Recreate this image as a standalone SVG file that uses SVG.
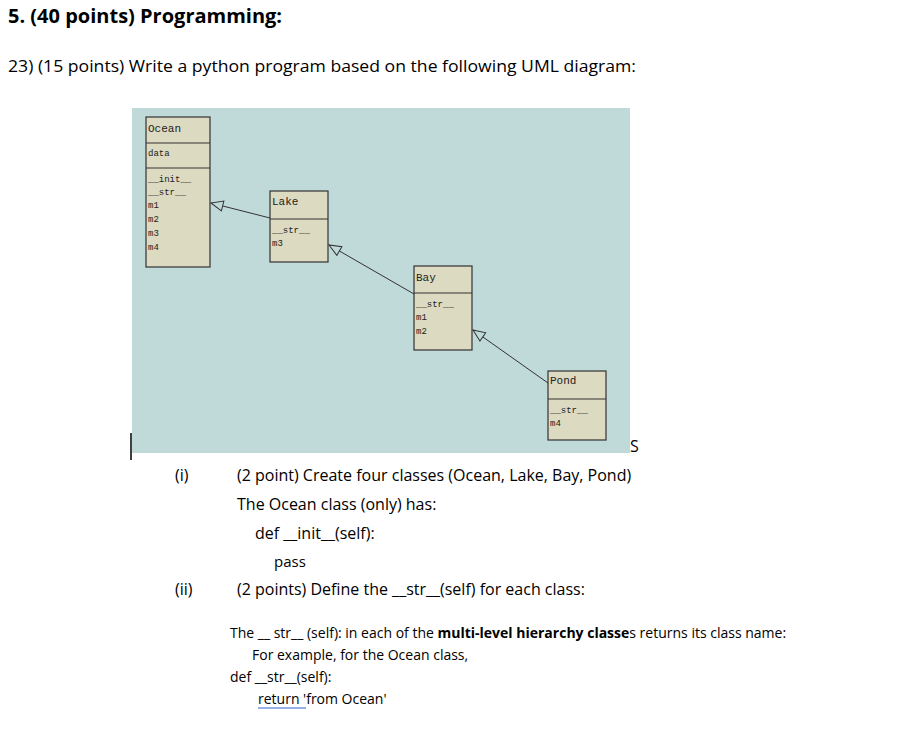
<svg xmlns="http://www.w3.org/2000/svg" width="923" height="735" viewBox="0 0 923 735">
<style>
.t{font-family:"Open Sans","Liberation Sans",sans-serif;fill:#000}
.m{font-family:"Liberation Mono","DejaVu Sans Mono",monospace;font-size:11px;fill:#222}
.s{font-family:"Liberation Mono","DejaVu Sans Mono",monospace;font-size:9px;fill:#222}
.box{fill:#dcdac0;stroke:#333;stroke-width:1.2}
.ln{stroke:#333;stroke-width:1}
</style>
<defs>
<marker id="tri" markerWidth="14" markerHeight="12" refX="13" refY="6" orient="auto" markerUnits="userSpaceOnUse">
<path d="M1,1 L13,6 L1,11 Z" fill="#c0d9d9" stroke="#333" stroke-width="1"/>
</marker>
</defs>
<rect width="923" height="735" fill="#fff"/>
<text class="t" x="8" y="23" font-size="20" font-weight="bold">5. (40 points) Programming:</text>
<text class="t" x="8" y="72" font-size="17" textLength="628" lengthAdjust="spacingAndGlyphs">23) (15 points) Write a python program based on the following UML diagram:</text>
<rect x="132" y="108" width="498" height="345" fill="#c0d9d9"/>
<line x1="131" y1="433" x2="131" y2="460" stroke="#000" stroke-width="1.5"/>
<text class="t" x="630" y="452" font-size="16">S</text>
<g id="connectors" fill="none" class="ln">
<line x1="270" y1="218" x2="211" y2="203" stroke="#333" marker-end="url(#tri)"/>
<line x1="414" y1="294" x2="329" y2="245" stroke="#333" marker-end="url(#tri)"/>
<line x1="548" y1="383" x2="473" y2="330" stroke="#333" marker-end="url(#tri)"/>
</g>
<g id="ocean">
<rect class="box" x="146" y="117" width="64" height="150"/>
<line class="ln" x1="146" y1="143" x2="210" y2="143" stroke="#333"/>
<line class="ln" x1="146" y1="168" x2="210" y2="168" stroke="#333"/>
<text class="m" x="148" y="132">Ocean</text>
<text class="s" x="148" y="156">data</text>
<text class="s" x="148" y="182">__init__</text>
<text class="s" x="148" y="195">__str__</text>
<text class="s" x="148" y="208">m1</text>
<text class="s" x="148" y="222">m2</text>
<text class="s" x="148" y="236">m3</text>
<text class="s" x="148" y="250">m4</text>
</g>
<g id="lake">
<rect class="box" x="270" y="191" width="58" height="71"/>
<line x1="270" y1="219" x2="328" y2="219" stroke="#333"/>
<text class="m" x="272" y="205">Lake</text>
<text class="s" x="272" y="233">__str__</text>
<text class="s" x="272" y="246">m3</text>
</g>
<g id="bay">
<rect class="box" x="414" y="266" width="58" height="84"/>
<line x1="414" y1="293" x2="472" y2="293" stroke="#333"/>
<text class="m" x="416" y="281">Bay</text>
<text class="s" x="416" y="307">__str__</text>
<text class="s" x="416" y="320">m1</text>
<text class="s" x="416" y="334">m2</text>
</g>
<g id="pond">
<rect class="box" x="548" y="371" width="58" height="69"/>
<line x1="548" y1="399" x2="606" y2="399" stroke="#333"/>
<text class="m" x="550" y="384">Pond</text>
<text class="s" x="550" y="413">__str__</text>
<text class="s" x="550" y="426">m4</text>
</g>
<g font-size="16">
<text class="t" x="175" y="481" font-size="16">(i)</text>
<text class="t" x="237" y="481" font-size="16">(2 point) Create four classes (Ocean, Lake, Bay, Pond)</text>
<text class="t" x="237" y="510" font-size="16">The Ocean class (only) has:</text>
<text class="t" x="255" y="539" font-size="16">def __init__(self):</text>
<text class="t" x="274" y="567" font-size="15">pass</text>
<text class="t" x="175" y="595" font-size="16">(ii)</text>
<text class="t" x="237" y="595" font-size="16">(2 points) Define the __str__(self) for each class:</text>
<text class="t" x="230" y="638" font-size="14">The __ str__ (self): in each of the <tspan font-weight="bold">multi-level hierarchy classe</tspan>s returns its class name:</text>
<text class="t" x="252" y="660" font-size="14">For example, for the Ocean class,</text>
<text class="t" x="230" y="682" font-size="14">def __str__(self):</text>
<text class="t" x="258" y="704" font-size="14">return  'from Ocean'</text>
<line x1="258" y1="708" x2="306" y2="708" stroke="#3060d0" stroke-width="1.2"/>
</g>
</svg>
